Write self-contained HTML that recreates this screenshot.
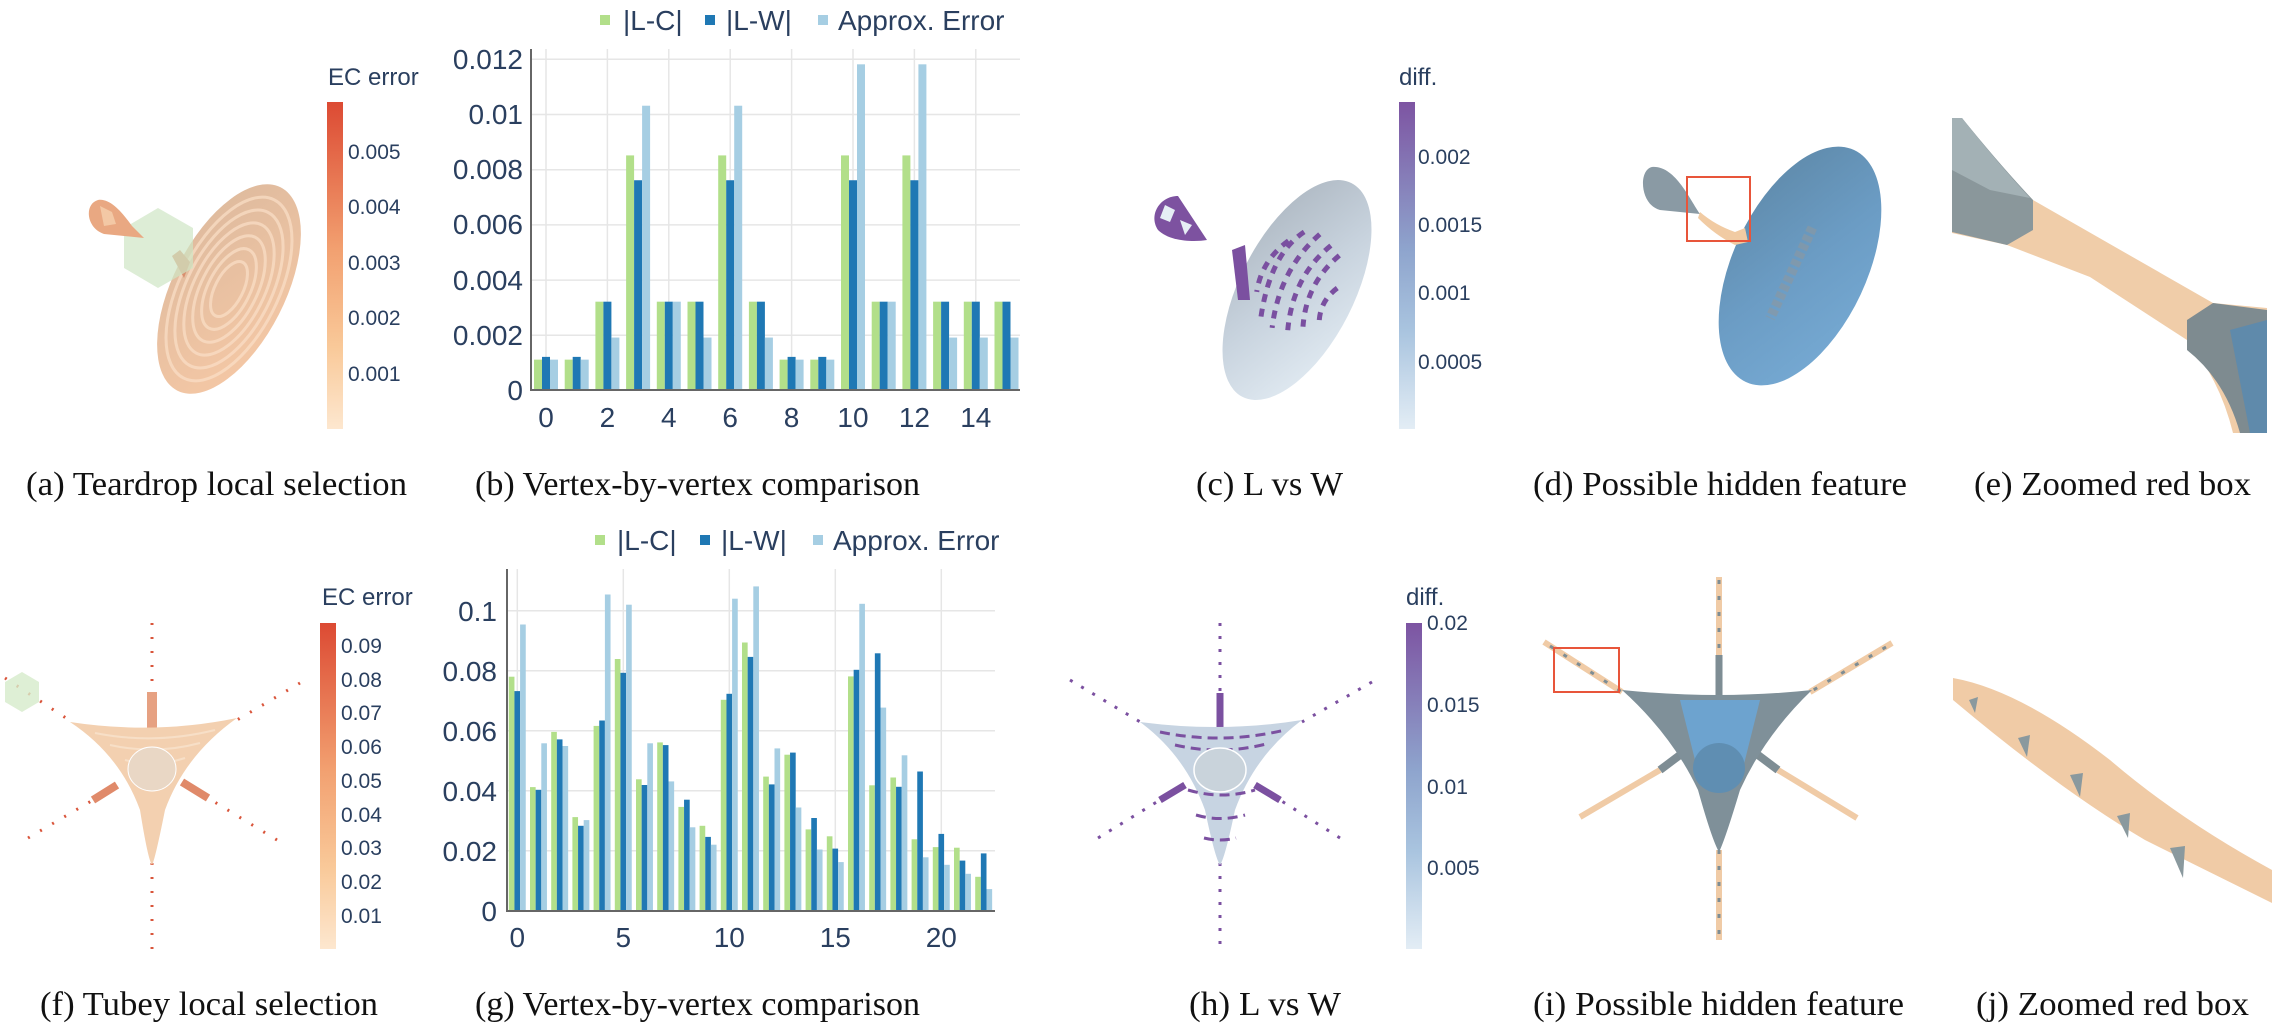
<!DOCTYPE html>
<html><head><meta charset="utf-8"><style>
html,body{margin:0;padding:0;background:#fff;}
svg{display:block;}
.t{font-family:"Liberation Sans","DejaVu Sans",sans-serif;fill:#2a3f5f;}
.cap{font-family:"Liberation Serif",serif;fill:#111;font-size:34px;}
</style></head><body>
<svg id="s" width="2272" height="1029" viewBox="0 0 2272 1029" xmlns="http://www.w3.org/2000/svg">
<defs>
<linearGradient id="ec" x1="0" y1="0" x2="0" y2="1"><stop offset="0" stop-color="#dc4a33"/><stop offset="0.45" stop-color="#f2a070"/><stop offset="0.75" stop-color="#f9c999"/><stop offset="1" stop-color="#fde7cf"/></linearGradient>
<linearGradient id="df" x1="0" y1="0" x2="0" y2="1"><stop offset="0" stop-color="#7d54a2"/><stop offset="0.45" stop-color="#8ea4cd"/><stop offset="0.7" stop-color="#a9c4df"/><stop offset="1" stop-color="#e3edf5"/></linearGradient>
<linearGradient id="diskA" x1="1" y1="0" x2="0" y2="1"><stop offset="0" stop-color="#dcb99d"/><stop offset="1" stop-color="#f7c9a6"/></linearGradient>
<linearGradient id="diskC" x1="1" y1="0" x2="0" y2="1"><stop offset="0" stop-color="#aab4be"/><stop offset="0.5" stop-color="#c8d3de"/><stop offset="1" stop-color="#e6eff6"/></linearGradient>
<linearGradient id="diskD" x1="1" y1="0" x2="0" y2="1"><stop offset="0" stop-color="#5d87a6"/><stop offset="0.5" stop-color="#6b9cc4"/><stop offset="1" stop-color="#78acd6"/></linearGradient>
</defs>

<!-- ===== (a) ===== -->
<g transform="translate(229,289) rotate(-63)">
<ellipse rx="114" ry="56" fill="url(#diskA)"/>
<g fill="none" stroke="#fbe0c8" stroke-width="3" opacity="0.7">
<ellipse rx="100" ry="49"/><ellipse rx="86" ry="42"/><ellipse rx="72" ry="35"/><ellipse rx="58" ry="28"/><ellipse rx="44" ry="21"/><ellipse rx="30" ry="14"/>
</g></g>
<path d="M172,256 L180,250 L190,262 L184,278 Z" fill="#d98f6f"/>
<polygon points="158,208 193,228 193,268 158,288 124,268 124,228" fill="#cfe6c4" opacity="0.7"/>
<g transform="translate(0,38)">
<path d="M98,162 C84,166 86,190 104,196 L144,200 L132,188 C122,174 110,160 98,162 Z" fill="#e9a882"/>
<path d="M100,168 L112,174 L116,186 L104,188 Z" fill="#f3c8a5"/>
</g>
<rect x="327" y="102" width="16" height="327" fill="url(#ec)"/>
<text class="t" x="328" y="85" font-size="24">EC error</text>
<g class="t" font-size="21">
<text x="348" y="159">0.005</text><text x="348" y="214">0.004</text><text x="348" y="270">0.003</text><text x="348" y="325">0.002</text><text x="348" y="381">0.001</text>
</g>
<text class="cap" x="26" y="495" textLength="381" lengthAdjust="spacingAndGlyphs">(a) Teardrop local selection</text>

<!-- ===== (b) chart ===== -->
<g id="chartb">
<g stroke="#e6e6e6" stroke-width="1.5">
<line x1="531" x2="1020" y1="59.3" y2="59.3"/><line x1="531" x2="1020" y1="114.5" y2="114.5"/><line x1="531" x2="1020" y1="169.7" y2="169.7"/><line x1="531" x2="1020" y1="224.9" y2="224.9"/><line x1="531" x2="1020" y1="280.1" y2="280.1"/><line x1="531" x2="1020" y1="335.3" y2="335.3"/>
<line x1="546" x2="546" y1="49" y2="390"/><line x1="607.4" x2="607.4" y1="49" y2="390"/><line x1="668.8" x2="668.8" y1="49" y2="390"/><line x1="730.2" x2="730.2" y1="49" y2="390"/><line x1="791.6" x2="791.6" y1="49" y2="390"/><line x1="853" x2="853" y1="49" y2="390"/><line x1="914.4" x2="914.4" y1="49" y2="390"/><line x1="975.8" x2="975.8" y1="49" y2="390"/>
</g>
<g id="barsb"></g>
<line x1="531" x2="531" y1="49" y2="391" stroke="#666" stroke-width="2"/>
<line x1="530" x2="1020" y1="390" y2="390" stroke="#666" stroke-width="2"/>
<g class="t" font-size="28" text-anchor="end">
<text x="523" y="69">0.012</text><text x="523" y="124">0.01</text><text x="523" y="179">0.008</text><text x="523" y="234">0.006</text><text x="523" y="290">0.004</text><text x="523" y="345">0.002</text><text x="523" y="400">0</text>
</g>
<g class="t" font-size="28" text-anchor="middle">
<text x="546" y="427">0</text><text x="607.4" y="427">2</text><text x="668.8" y="427">4</text><text x="730.2" y="427">6</text><text x="791.6" y="427">8</text><text x="853" y="427">10</text><text x="914.4" y="427">12</text><text x="975.8" y="427">14</text>
</g>
<rect x="600" y="15" width="10" height="10" fill="#b2df8a"/><text class="t" x="623" y="30" font-size="28">|L-C|</text>
<rect x="705" y="15" width="10" height="10" fill="#1f78b4"/><text class="t" x="726" y="30" font-size="28">|L-W|</text>
<rect x="818" y="15" width="10" height="10" fill="#a6cee3"/><text class="t" x="838" y="30" font-size="28">Approx. Error</text>
</g>
<text class="cap" x="475" y="495" textLength="445" lengthAdjust="spacingAndGlyphs">(b) Vertex-by-vertex comparison</text>

<!-- ===== (c) ===== -->
<g transform="translate(1297,290) rotate(-63)">
<ellipse rx="120" ry="57" fill="url(#diskC)"/>
<g stroke="#7a4fa0" stroke-width="5" stroke-dasharray="8 7" fill="none">
<path d="M55,-20 Q20,-40 -40,-20"/><path d="M60,-5 Q10,-25 -45,-5"/><path d="M55,10 Q10,-10 -40,10"/><path d="M50,22 Q10,5 -30,22"/><path d="M40,-30 Q10,-45 -20,-35"/><path d="M20,35 Q0,25 -20,35"/>
</g>
</g>
<path d="M1178,196 C1160,196 1148,215 1158,230 C1170,242 1195,242 1207,240 Z" fill="#7d52a0"/>
<path d="M1165,205 L1175,210 L1170,222 L1160,218 Z M1180,220 L1192,225 L1185,235 Z" fill="#e6eef5"/>
<path d="M1232,250 L1245,245 L1250,300 L1238,300 Z" fill="#7b50a0"/>
<rect x="1399" y="102" width="16" height="327" fill="url(#df)"/>
<text class="t" x="1399" y="85" font-size="24">diff.</text>
<g class="t" font-size="21">
<text x="1418" y="164">0.002</text><text x="1418" y="232">0.0015</text><text x="1418" y="300">0.001</text><text x="1418" y="369">0.0005</text>
</g>
<text class="cap" x="1196" y="495" textLength="147" lengthAdjust="spacingAndGlyphs">(c) L vs W</text>

<!-- ===== (d) ===== -->
<g transform="translate(1800,266) rotate(-65)">
<ellipse rx="128" ry="67" fill="url(#diskD)"/>
<path d="M40,-5 L-60,-5" stroke="#8d98a0" stroke-width="10" stroke-dasharray="6 3" opacity="0.6"/>
</g>
<path d="M1652,167 C1638,170 1640,205 1660,210 L1700,214 C1690,200 1675,165 1652,167 Z" fill="#8a9aa4"/>
<path d="M1700,212 Q1715,225 1735,232 L1745,228 L1748,242 L1735,245 Q1715,235 1698,218 Z" fill="#f1cba3"/>
<rect x="1687" y="177" width="63" height="64" fill="none" stroke="#e8553a" stroke-width="2"/>
<text class="cap" x="1533" y="495" textLength="374" lengthAdjust="spacingAndGlyphs">(d) Possible hidden feature</text>

<!-- ===== (e) ===== -->
<path d="M1963,120 Q2000,170 2033,200 L2213,303 L2267,308 L2267,433 L2233,433 Q2220,380 2187,340 L2090,277 L2007,245 L1952,233 L1952,118 Z" fill="#f0cda9"/>
<path d="M1952,118 L1962,118 Q2000,165 2033,200 L2033,230 L2007,245 L1952,232 Z" fill="#8a979b"/>
<path d="M1952,118 L1962,118 Q1995,160 2030,198 L1990,190 L1952,170 Z" fill="#a3b1b5"/>
<path d="M2187,320 L2213,303 L2267,310 L2267,433 L2240,433 Q2225,380 2187,350 Z" fill="#7e8b90"/>
<path d="M2230,330 L2267,320 L2267,433 L2250,433 Z" fill="#5f8aab"/>
<text class="cap" x="1974" y="495" textLength="277" lengthAdjust="spacingAndGlyphs">(e) Zoomed red box</text>

<!-- ===== (f) ===== -->
<g stroke="#d9553b" stroke-width="3" stroke-dasharray="2 12">
<line x1="152" y1="623" x2="152" y2="693"/><line x1="152" y1="863" x2="152" y2="952"/>
<line x1="5" y1="678" x2="72" y2="722"/><line x1="300" y1="683" x2="237" y2="720"/>
<line x1="28" y1="838" x2="93" y2="800"/><line x1="277" y1="840" x2="208" y2="798"/>
</g>
<path d="M93,800 L117,785" stroke="#e08a6a" stroke-width="8"/><path d="M208,798 L182,782" stroke="#e08a6a" stroke-width="8"/>
<path d="M152,692 L152,735" stroke="#e6a182" stroke-width="10"/>
<path d="M70,722 Q155,735 237,718 Q185,755 165,810 Q155,860 152,865 Q148,860 140,810 Q120,755 70,722 Z" fill="#f3d0b0"/>
<g fill="none" stroke="#f9e3cd" stroke-width="2" opacity="0.8">
<path d="M95,733 Q155,745 215,730"/><path d="M110,745 Q155,755 200,743"/><path d="M125,760 Q155,768 185,758"/>
</g>
<ellipse cx="152" cy="769" rx="24" ry="22" fill="#e9d7c5" stroke="#fff" stroke-width="1"/>
<polygon points="22,672 39,682 39,702 22,712 5,702 5,682" fill="#d6ebcb" opacity="0.8"/>
<rect x="320" y="623" width="16" height="326" fill="url(#ec)"/>
<text class="t" x="322" y="605" font-size="24">EC error</text>
<g class="t" font-size="21">
<text x="341" y="653">0.09</text><text x="341" y="687">0.08</text><text x="341" y="720">0.07</text><text x="341" y="754">0.06</text><text x="341" y="788">0.05</text><text x="341" y="822">0.04</text><text x="341" y="855">0.03</text><text x="341" y="889">0.02</text><text x="341" y="923">0.01</text>
</g>
<text class="cap" x="40" y="1015" textLength="338" lengthAdjust="spacingAndGlyphs">(f) Tubey local selection</text>

<!-- ===== (g) chart ===== -->
<g stroke="#e6e6e6" stroke-width="1.5">
<line x1="507" x2="995" y1="610.7" y2="610.7"/><line x1="507" x2="995" y1="670.7" y2="670.7"/><line x1="507" x2="995" y1="730.7" y2="730.7"/><line x1="507" x2="995" y1="790.7" y2="790.7"/><line x1="507" x2="995" y1="850.7" y2="850.7"/>
<line x1="517.3" x2="517.3" y1="569" y2="911"/><line x1="623.3" x2="623.3" y1="569" y2="911"/><line x1="729.3" x2="729.3" y1="569" y2="911"/><line x1="835.3" x2="835.3" y1="569" y2="911"/><line x1="941.3" x2="941.3" y1="569" y2="911"/>
</g>
<g id="barsg"></g>
<line x1="507" x2="507" y1="569" y2="912" stroke="#666" stroke-width="2"/>
<line x1="506" x2="995" y1="911" y2="911" stroke="#666" stroke-width="2"/>
<g class="t" font-size="28" text-anchor="end">
<text x="497" y="621">0.1</text><text x="497" y="681">0.08</text><text x="497" y="741">0.06</text><text x="497" y="801">0.04</text><text x="497" y="861">0.02</text><text x="497" y="921">0</text>
</g>
<g class="t" font-size="28" text-anchor="middle">
<text x="517.3" y="947">0</text><text x="623.3" y="947">5</text><text x="729.3" y="947">10</text><text x="835.3" y="947">15</text><text x="941.3" y="947">20</text>
</g>
<rect x="595" y="535" width="10" height="10" fill="#b2df8a"/><text class="t" x="617" y="550" font-size="28">|L-C|</text>
<rect x="700" y="535" width="10" height="10" fill="#1f78b4"/><text class="t" x="721" y="550" font-size="28">|L-W|</text>
<rect x="813" y="535" width="10" height="10" fill="#a6cee3"/><text class="t" x="833" y="550" font-size="28">Approx. Error</text>
<text class="cap" x="475" y="1015" textLength="445" lengthAdjust="spacingAndGlyphs">(g) Vertex-by-vertex comparison</text>

<!-- ===== (h) ===== -->
<g stroke="#7b50a0" stroke-width="3" stroke-dasharray="3 10">
<line x1="1220" y1="623" x2="1220" y2="693"/><line x1="1220" y1="863" x2="1220" y2="952"/>
<line x1="1070" y1="680" x2="1142" y2="723"/><line x1="1372" y1="682" x2="1302" y2="722"/>
<line x1="1098" y1="838" x2="1160" y2="800"/><line x1="1340" y1="838" x2="1280" y2="800"/>
</g>
<path d="M1160,800 L1185,785" stroke="#7b50a0" stroke-width="7"/><path d="M1280,800 L1255,785" stroke="#7b50a0" stroke-width="7"/>
<path d="M1220,693 L1220,735" stroke="#7b50a0" stroke-width="7"/>
<path d="M1140,722 Q1222,733 1302,720 Q1255,755 1235,810 Q1225,858 1220,865 Q1215,858 1205,810 Q1185,755 1140,722 Z" fill="#c7d4e2"/>
<g fill="none" stroke="#7b50a0" stroke-width="3" stroke-dasharray="10 6">
<path d="M1160,732 Q1222,745 1285,730"/><path d="M1175,745 Q1222,756 1270,743"/><path d="M1188,790 Q1222,800 1255,790"/><path d="M1196,815 Q1220,822 1245,815"/><path d="M1204,838 Q1220,842 1236,838"/>
</g>
<ellipse cx="1220" cy="770" rx="26" ry="22" fill="#c9d3db" stroke="#fff" stroke-width="1.5"/>
<rect x="1406" y="623" width="16" height="326" fill="url(#df)"/>
<text class="t" x="1406" y="605" font-size="24">diff.</text>
<g class="t" font-size="21">
<text x="1427" y="630">0.02</text><text x="1427" y="712">0.015</text><text x="1427" y="794">0.01</text><text x="1427" y="875">0.005</text>
</g>
<text class="cap" x="1189" y="1015" textLength="152" lengthAdjust="spacingAndGlyphs">(h) L vs W</text>

<!-- ===== (i) ===== -->
<g stroke="#f0cba6" stroke-width="6">
<line x1="1719" y1="577" x2="1719" y2="693"/><line x1="1719" y1="850" x2="1719" y2="940"/>
<line x1="1544" y1="642" x2="1622" y2="692"/><line x1="1892" y1="643" x2="1810" y2="692"/>
<line x1="1580" y1="817" x2="1660" y2="770"/><line x1="1857" y1="818" x2="1778" y2="770"/>
</g>
<g stroke="#7e8d94" stroke-width="3" stroke-dasharray="4 12">
<line x1="1719" y1="580" x2="1719" y2="693"/><line x1="1719" y1="850" x2="1719" y2="940"/>
<line x1="1550" y1="646" x2="1622" y2="692"/><line x1="1886" y1="647" x2="1810" y2="692"/>
</g>
<path d="M1660,770 L1680,755" stroke="#7e8d94" stroke-width="8"/><path d="M1778,770 L1758,755" stroke="#7e8d94" stroke-width="8"/>
<path d="M1719,655 L1719,700" stroke="#7e8d94" stroke-width="7"/>
<path d="M1622,690 Q1720,700 1812,690 Q1765,735 1740,790 Q1725,840 1719,852 Q1712,840 1698,790 Q1672,735 1622,690 Z" fill="#7f9099"/>
<path d="M1680,700 L1760,700 L1740,780 L1700,780 Z" fill="#6da3cf"/>
<ellipse cx="1719" cy="768" rx="26" ry="25" fill="#5f8eb2"/>
<rect x="1554" y="648" width="65" height="44" fill="none" stroke="#e8553a" stroke-width="2"/>
<text class="cap" x="1533" y="1015" textLength="371" lengthAdjust="spacingAndGlyphs">(i) Possible hidden feature</text>

<!-- ===== (j) ===== -->
<path d="M1953,678 L1953,700 Q2060,790 2145,840 L2272,903 L2272,870 Q2180,820 2110,760 Q2020,690 1953,678 Z" fill="#f0cba6"/>
<g fill="#8a999e">
<polygon points="1969,700 1978,697 1975,713"/><polygon points="2018,738 2030,735 2027,757"/><polygon points="2070,775 2083,773 2080,797"/><polygon points="2117,816 2130,813 2128,838"/><polygon points="2170,848 2185,846 2183,878"/>
</g>
<text class="cap" x="1976" y="1015" textLength="273" lengthAdjust="spacingAndGlyphs">(j) Zoomed red box</text>
</svg>
<script>
(function(){
var NS="http://www.w3.org/2000/svg",C=["#b2df8a","#1f78b4","#a6cee3"];
function add(g,x,y,w,h,c){var r=document.createElementNS(NS,"rect");r.setAttribute("x",x);r.setAttribute("y",y);r.setAttribute("width",w);r.setAttribute("height",h);r.setAttribute("fill",c);g.appendChild(r);}
var B=[[.0011,.0012,.0011],[.0011,.0012,.0011],[.0032,.0032,.0019],[.0085,.0076,.0103],[.0032,.0032,.0032],[.0032,.0032,.0019],[.0085,.0076,.0103],[.0032,.0032,.0019],[.0011,.0012,.0011],[.0011,.0012,.0011],[.0085,.0076,.0118],[.0032,.0032,.0032],[.0085,.0076,.0118],[.0032,.0032,.0019],[.0032,.0032,.0019],[.0032,.0032,.0019]];
var gb=document.getElementById("barsb");
B.forEach(function(v,i){var cx=546+i*30.7;for(var k=0;k<3;k++){var h=v[k]/0.002*55.2;add(gb,cx-12+k*8,390-h,8,h,C[k]);}});
var G=[[.078,.0732,.0954],[.0412,.0403,.0558],[.0596,.0571,.0549],[.0312,.0283,.0302],[.0616,.0634,.1054],[.0839,.0793,.102],[.0438,.0419,.0558],[.0561,.0552,.0431],[.0346,.037,.0278],[.0283,.0246,.022],[.0703,.0723,.104],[.0894,.0846,.1081],[.0447,.0421,.0541],[.052,.0527,.0344],[.0271,.0309,.0204],[.0248,.0207,.0162],[.0781,.0803,.1023],[.0418,.0858,.0677],[.0444,.0413,.0518],[.0238,.0464,.0178],[.0212,.0256,.0153],[.021,.0167,.0123],[.0113,.0191,.0072]];
var gg=document.getElementById("barsg");
G.forEach(function(v,i){var cx=517.3+i*21.2;for(var k=0;k<3;k++){var h=v[k]/0.02*60;add(gg,cx-8.5+k*5.65,910.7-h,5.65,h,C[k]);}});
})();
</script>
</body></html>
